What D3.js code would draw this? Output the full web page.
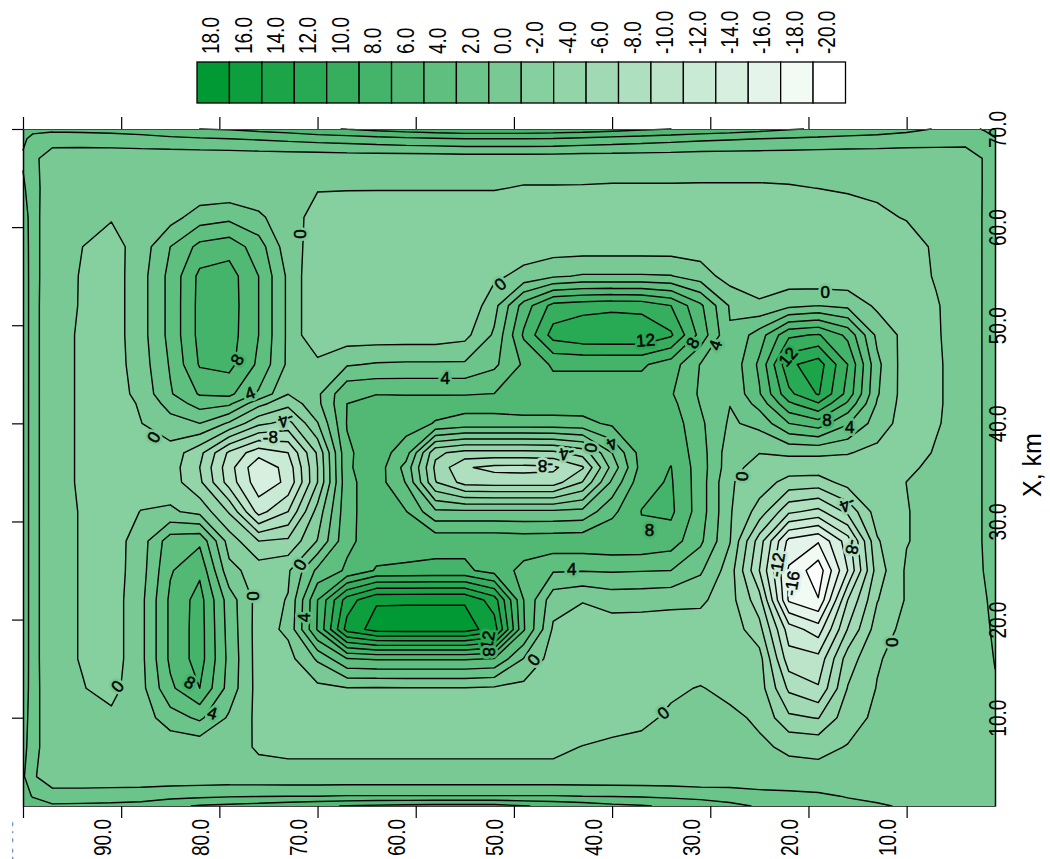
<!DOCTYPE html>
<html><head><meta charset="utf-8">
<style>html,body{margin:0;padding:0;background:#fff}svg{display:block}text{font-family:"Liberation Sans",Arial,sans-serif}</style>
<script src="https://cdn.jsdelivr.net/npm/d3@7/dist/d3.min.js"></script>
</head><body><svg id="c" width="1050" height="859"></svg>
<script>
const legendLevels=[18,16,14,12,10,8,6,4,2,0,-2,-4,-6,-8,-10,-12,-14,-16,-18,-20];
const yTicks=[100,90,80,70,60,50,40,30,20,10];
const xTicks=[70,60,50,40,30,20,10];
// node positions of the value table, km
const yNodes=[100,99,97,94,91,88,85,82,79,76,73,70,67,64,61,58,55,52,49,46,43,40,37,34,31,28,25,22,19,16,13,10,7,4,2,1];
const xNodes=[70,69,67,64,61,58,55,52,49,46,43,42,40,37,35.5,34,31,28,25,22,19,16,13,10,7,4,2,1];
// field: one row per xNodes entry, one value per yNodes entry
const field=[
[5.0,4.6,4.4,4.5,4.6,4.8,5.4,6.0,6.2,6.6,7.0,7.6,8.1,8.6,9.0,9.4,9.6,9.6,9.6,9.4,9.2,8.8,8.4,8.0,7.6,7.2,6.7,6.2,5.8,5.4,5.0,4.5,3.9,3.4,4.2,4.6],
[4.4,3.4,3.1,3.1,3.2,3.4,3.6,3.8,4.0,4.2,4.5,4.8,5.0,5.3,5.6,5.8,6.0,6.0,6.0,5.9,5.6,5.3,5.0,4.7,4.4,4.2,4.0,3.8,3.6,3.4,3.3,3.1,3.0,2.8,3.3,3.9],
[3.7,2.6,.7,.6,.6,.6,.6,.6,.6,.7,.7,.7,.8,.8,.8,.8,.9,.9,.9,.9,.8,.8,.8,.8,.7,.7,.7,.7,.7,.7,.7,.7,.7,.9,2.2,2.8],
[4.4,2.7,.8,.7,.6,.5,.5,.5,.5,.5,.4,.1,.1,.1,.1,.1,.1,.1,-.1,-.1,-.1,-.15,-.15,-.15,-.15,-.15,-.15,-.1,.02,.2,.3,.5,.6,.9,2.2,2.8],
[5.4,2.7,.7,.4,.15,.6,1.2,3.0,3.5,2.4,.7,-.6,-.9,-1,-1,-1,-1,-1,-1,-1,-1,-1,-1,-1,-1,-1,-1,-1,-.9,-.8,-.3,.1,.7,1,2.2,2.8],
[5.6,2.7,.7,.02,-.8,.9,4,6.6,7.2,5,.8,-.8,-1,-1,-1,-1,-1,-1,-1,-1,-1,-1,-1,-1,-1,-1,-1,-1,-1,-1,-1,-.7,.25,1,2.2,2.8],
[5.7,2.7,.7,-.1,-1,1.2,4.6,8.5,8.9,6,1.6,-1.9,-1,-1,-1,-1,-1,-.4,.6,1.7,2.2,2.2,2.2,2.1,1,-.9,-1,-1.2,-1.5,-1.4,-1,-.8,.15,1,2.2,2.8],
[5.7,2.7,.6,-.1,-1,1.2,4.6,8.6,9,6,1.6,-1.9,-1.1,-1,-1,-1,-1.8,1.3,6.9,10.7,11.2,11.5,11.3,10,6.4,1.8,.3,1.5,2,1.5,-.4,-1,-.15,1,2.2,2.8],
[5.7,2.7,.6,-.2,-1,1.2,4.6,8.6,8.9,6,1.6,-1.9,-1.1,-1.1,-1.1,-1.1,-.6,2.3,8.3,12.8,13.6,13.7,13.7,12.3,7.3,2.2,5,9.6,10.2,7.5,1.5,-.7,-.2,1,2.2,2.8],
[5.7,2.7,.6,-.2,-1,1,4.2,8.2,8.6,5.6,1.6,.6,1.8,2.2,2.3,2.3,2.3,3.6,6.3,8.3,8.3,8.3,8.3,7,3.9,2.4,6.4,13.6,15,10,2.5,-1.1,-.3,1,2.2,2.8],
[5.7,2.7,.6,-.2,-1,.6,3.8,6.2,6.5,3.7,.05,1.6,5.7,5.95,5.9,5.9,5.9,6.03,6.9,7,7,7,7,6.2,3.7,2.2,5.8,11.5,14.2,9.3,2.2,-1,-.3,1,2.2,2.8],
[5.7,2.7,.6,-.2,-1,.2,2.8,4.8,4.4,.6,-1.4,1.5,6.0,6.6,6.6,6.6,6.7,6.7,7,7,7,7,7,6.6,3.9,2.05,4.7,9.6,11.8,7.6,1.8,-1,-.3,1,2.2,2.8],
[5.7,2.7,.6,-.2,-1,-.05,1.2,2,-.3,-3.5,-4.7,-.1,6.1,6.7,6.8,5.9,5.3,5.3,5.3,5.3,5.4,6.4,7,7.2,4.4,1.7,2.6,6,7.1,4.2,1,-.9,-.2,1,2.2,2.8],
[5.7,2.7,.6,-.2,-1,-.7,-.8,-3.4,-8.4,-11.2,-10,-3.7,5.7,7,5,-3.6,-4.7,-4.7,-4.7,-4.5,-3.2,2,6.9,7.6,4.9,.9,.05,.3,.3,.1,-.5,-1,.2,1,2.2,2.8],
[5.7,2.7,.6,-.2,-1,-.9,-1,-4,-9.2,-13.6,-11.2,-4,5.7,7.2,3.3,-4.4,-7.8,-8.5,-8.6,-8.4,-6.2,.7,6.8,8.05,5,.8,-.9,-1,-1,-.8,-1,-.4,.5,1,2.2,2.8],
[5.7,2.7,.6,-.2,-1,-.9,-1,-3.6,-8.9,-13.2,-11.6,-4,5.5,7,3.9,-3.9,-6.8,-7,-7,-7,-3.9,2.4,7.4,8.2,5,.2,-1,-2.7,-2.9,-1.2,-1,.02,.7,1,2.2,2.8],
[5.7,2.7,.6,-.1,-1,.05,.3,-.6,-4.2,-10.8,-8,-1.2,5.4,7.2,6.1,2.4,2.4,2.4,2.4,2.4,2.6,5.5,8.05,8.4,5,.2,-2.8,-7.6,-8.6,-5.5,-1,-.1,.8,1,2.2,2.8],
[5.7,2.7,.6,-.1,-1,1,5.1,5.6,-.9,-4,-3.6,.1,5.6,6.9,7.2,7.4,7.4,7.4,7.2,7.3,7.4,7.6,7.6,7,4.4,.1,-7,-14.6,-15.8,-11,-2.2,-.1,.8,1,2.2,2.8],
[5.7,2.7,.6,-.1,-1,1.1,5.8,7.6,.6,-.9,-.3,4.5,6.3,8.2,8.3,8.4,8.4,7.2,5.4,4.2,4.1,4.2,4.1,4,2.3,-1,-8,-16.3,-19.2,-12,-3,.3,.8,1.1,2.1,2.6],
[5.7,2.7,.6,-.1,-1,1.4,6.4,8.8,3,-.8,.1,8,15,17.8,17.8,17.8,17.8,15,6,.8,.1,.8,.7,.5,.4,-1.2,-5.2,-16.3,-17.9,-8,-2.1,.2,.9,1,1.9,2.4],
[5.7,2.7,.6,-.1,-1,1.4,6.4,8.9,3.2,-.9,.4,8.2,16.8,18.8,18.9,18.9,18.9,17,6.2,-.3,-.9,-1,-1,-1,-1,-.8,-3.3,-11,-13,-5.9,-1,.6,.9,1,1.8,2.2],
[5.7,2.7,.6,-.1,-1,1.4,6.4,8.9,3.4,-.9,-.7,2.3,5.9,6.2,6.2,6.2,6.2,5.9,1.9,-.9,-1,-1,-1,-1,-1,-.8,-1.2,-9.2,-9.4,-3,-.2,.9,1,1,1.7,2.05],
[5.6,2.7,.7,.1,-.6,1.3,5.6,8,3.2,-.8,-1,-.5,-.1,-.15,-.1,-.1,-.1,-.3,-.6,-1,-1,-1,-.7,-.3,.1,-.5,-1,-6.4,-7.8,-1.9,.1,1,1,1,1.6,1.9],
[5.2,2.7,.7,.8,.4,.9,3.1,4.4,1.7,-.5,-1,-1,-1,-1,-1,-1,-1,-1,-1,-1,-.9,-.6,-.4,.3,.5,.4,-.3,-3.6,-4.1,-.8,.4,.9,1,1,1.5,1.8],
[4.8,2.7,.7,.8,.8,.6,.6,.6,.7,-.2,-.33,-.33,-.33,-.33,-.33,-.33,-.33,-.33,-.33,-.33,.05,.3,.5,.5,.5,.5,.3,-.3,-.5,.1,.7,.9,1,1,1.4,1.7],
[4.3,2.3,.7,.7,.7,.7,.7,.7,.7,.6,.5,.5,.5,.5,.5,.5,.5,.5,.5,.5,.5,.5,.5,.5,.5,.6,.6,.7,.7,.8,.9,.9,1,1,1.4,1.6],
[4.6,3.9,2.9,2.9,3,3.1,3.4,3.6,3.8,3.9,4.0,4.0,4.1,4.1,4.1,4.1,4.1,4.1,4.1,4.1,4.0,3.9,3.8,3.6,3.3,3.1,2.7,2.5,2.3,1.9,1.6,1.4,1.3,1.2,1.3,1.4],
[5,4.7,4.3,4.4,4.5,4.7,5.5,6.2,6.5,6.8,7.2,7.7,8.1,8.4,8.6,8.7,8.7,8.7,8.1,7.6,7.1,6.5,6.2,5.6,5.3,4.5,3.8,3.3,2.9,2.5,2.2,1.8,1.6,1.5,1.5,1.5]
];
// contour labels: Y km, X km, text, rotation in degrees
const contourLabels=[
[71.8,59.3,"0",-90],[78.2,46.5,"8",-60],[76.9,43.1,"4",-20],[51.4,54.2,"0",-40],[57,44.6,"4",0],
[36.6,48.5,"12",-4],[31.8,48.2,"8",-60],[29.5,48,"4",-70],[18.3,53.4,"0",0],[22.1,46.8,"12",-50],
[18.1,40.4,"8",0],[15.8,39.6,"4",0],[86.7,38.6,"0",-60],[73.2,40.3,"-4",160],[74.8,38.6,"-8",0],
[26.8,34.6,"0",-85],[46.8,35.6,"-8",180],[44.6,36.9,"-4",170],[42.2,37.5,"0",-80],[40,37.9,"4",150],
[36.2,29.1,"8",0],[16,31.7,"-4",155],[15.5,27.4,"-8",100],[23.2,25.6,"-12",-80],[21.7,23.7,"-16",-80],
[71.8,25.6,"0",-60],[71.4,20.2,"4",-90],[76.6,22.4,"0",-90],[52.7,17.9,"12",-80],[52.5,16.7,"8",90],
[48,15.9,"0",-50],[44.1,25.2,"4",0],[90.4,13.2,"0",-50],[83,13.6,"8",30],[80.7,10.5,"4",15],
[34.8,10.5,"0",-40],[11.5,17.7,"0",-90]
];

const W=[23,995],H=[806,129];
const sy=d3.scaleLinear().domain([1,100]).range([995,23]);
const sx=d3.scaleLinear().domain([1,70]).range([806,129]);
const colY=d3.scaleLinear().domain(d3.range(yNodes.length)).range(yNodes);
const rowX=d3.scaleLinear().domain(d3.range(xNodes.length)).range(xNodes);
const color=d3.scaleLinear().domain([-20,18]).range(["#ffffff","#009933"]);
const svg=d3.select("#c");
const nx=yNodes.length,ny=xNodes.length;
const values=field.flat();
const levels=legendLevels.slice().reverse();
const contours=d3.contours().size([nx,ny]).thresholds(levels)(values);
const clampX=c=>Math.max(0,Math.min(nx-1,c-0.5));
const clampY=c=>Math.max(0,Math.min(ny-1,c-0.5));
const px=p=>[sy(colY(clampX(p[0]))),sx(rowX(clampY(p[1])))];
const onEdge=(a,b)=>{
  const ax=clampX(a[0]),bx=clampX(b[0]),ay=clampY(a[1]),by=clampY(b[1]);
  return (ax===0&&bx===0)||(ax===nx-1&&bx===nx-1)||(ay===0&&by===0)||(ay===ny-1&&by===ny-1);
};
const plot=svg.append("g");
plot.append("rect").attr("x",W[0]).attr("y",H[1]).attr("width",W[1]-W[0]).attr("height",H[0]-H[1]).attr("fill",color(-20));
contours.forEach(c=>{
  let d="";
  c.coordinates.forEach(poly=>poly.forEach(ring=>{
    d+="M"+ring.map(p=>px(p).map(v=>v.toFixed(2)).join(",")).join("L")+"Z";
  }));
  if(d) plot.append("path").attr("d",d).attr("fill",color(c.value)).attr("fill-rule","evenodd");
});
contours.filter(c=>c.value>-20).forEach(c=>{
  let d="";
  c.coordinates.forEach(poly=>poly.forEach(ring=>{
    for(let i=0;i<ring.length-1;i++){
      if(onEdge(ring[i],ring[i+1])) continue;
      const a=px(ring[i]),b=px(ring[i+1]);
      d+="M"+a[0].toFixed(2)+","+a[1].toFixed(2)+"L"+b[0].toFixed(2)+","+b[1].toFixed(2);
    }
  }));
  if(d) plot.append("path").attr("d",d).attr("fill","none").attr("stroke","#000").attr("stroke-width",1.4).attr("stroke-linecap","round");
});
// contour labels
const lab=svg.append("g").attr("font-size",17).attr("text-anchor","middle");
contourLabels.forEach(([y,x,t,r])=>{
  const v=+t, g=lab.append("g").attr("transform",`translate(${sy(y)},${sx(x)}) rotate(${r})`);
  g.append("text").attr("dy","0.36em").text(t).attr("fill",color(v)).attr("stroke",color(v)).attr("stroke-width",6).attr("stroke-linejoin","round");
  g.append("text").attr("dy","0.36em").text(t).attr("fill","#000").attr("stroke","#000").attr("stroke-width",.5);
});
// axes
const fmt=d=>d.toFixed(1);
const bottom=svg.append("g").attr("transform",`translate(0,${H[0]})`).call(d3.axisBottom(sy).tickValues(yTicks).tickSize(12).tickSizeOuter(0).tickFormat(fmt));
const top_=svg.append("g").attr("transform",`translate(0,${H[1]})`).call(d3.axisTop(sy).tickValues(yTicks).tickSize(12).tickSizeOuter(0).tickFormat(""));
const left=svg.append("g").attr("transform",`translate(${W[0]},0)`).call(d3.axisLeft(sx).tickValues(xTicks).tickSize(11).tickSizeOuter(0).tickFormat(""));
const right=svg.append("g").attr("transform",`translate(${W[1]},0)`).call(d3.axisRight(sx).tickValues(xTicks).tickSize(0).tickSizeOuter(0).tickFormat(fmt));
[bottom,top_].forEach(a=>{a.select(".domain").attr("stroke","#444").attr("stroke-width",1);a.selectAll("line").attr("stroke","#000").attr("stroke-width",1.2);});
[left,right].forEach(a=>{a.select(".domain").attr("stroke","#000").attr("stroke-width",1.5);a.selectAll("line").attr("stroke","#000").attr("stroke-width",1.2);});
bottom.selectAll("text").attr("x",0).attr("y",0).attr("dy",null).attr("font-size",19).attr("fill","#000").attr("text-anchor","end")
  .attr("transform",d=>`translate(${d===100?-10.6:-11},13) rotate(-90) scale(1,1.28)`);
right.selectAll("text").attr("x",0).attr("y",0).attr("dy",null).attr("font-size",19).attr("fill","#000").attr("text-anchor","middle")
  .attr("transform",`translate(11,0) rotate(-90) scale(1,1.28)`);
svg.selectAll(".tick text").style("font-family",'"Liberation Sans"');
// the first tick label runs off the page edge in the reference: only its sliver shows
svg.append("clipPath").attr("id","firstTick").append("rect").attr("x",-11).attr("y",0).attr("width",60).attr("height",60);
bottom.selectAll(".tick").filter(d=>d===100).attr("clip-path","url(#firstTick)");
// axis title
svg.append("text").text("X, km").attr("font-size",25).attr("text-anchor","middle").attr("transform","translate(1041,465) rotate(-90)");
// legend
const band=d3.scaleBand().domain(legendLevels).range([197,845.5]);
const lg=svg.append("g");
lg.selectAll("rect").data(legendLevels).join("rect").attr("x",d=>band(d)).attr("y",62).attr("width",band.bandwidth()).attr("height",41)
  .attr("fill",d=>color(d)).attr("stroke","#000").attr("stroke-width",1.3);
lg.selectAll("text").data(legendLevels).join("text").text(fmt).attr("font-size",19).attr("text-anchor","start")
  .attr("transform",d=>`translate(${band(d)+band.bandwidth()/2+6},54) rotate(-90) scale(1,1.28)`);
</script></body></html>
